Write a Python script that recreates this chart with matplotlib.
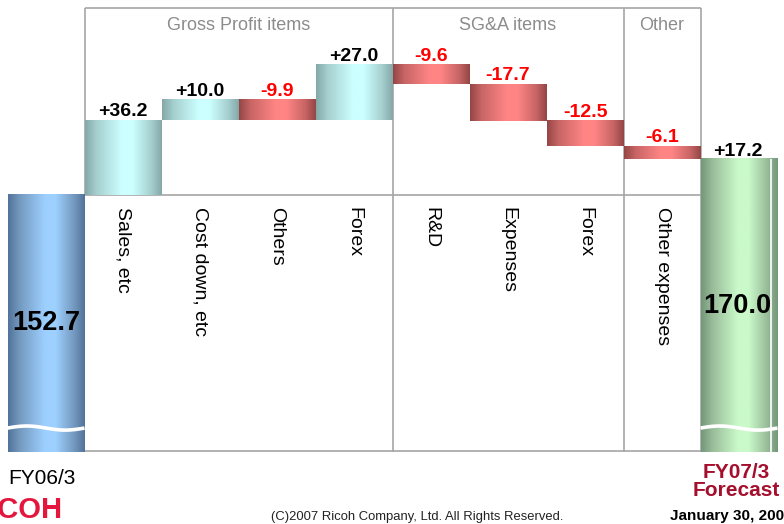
import numpy as np
import matplotlib.pyplot as plt
from matplotlib.colors import LinearSegmentedColormap

plt.rcParams['font.family'] = ['Liberation Sans', 'DejaVu Sans']

# data
start_label = "FY06/3"
end_label = ["FY07/3", "Forecast"]
start_value = 152.7
end_value = 170.0
end_change = 17.2
items = ["Sales, etc", "Cost down, etc", "Others", "Forex",
         "R&D", "Expenses", "Forex", "Other expenses"]
changes = [36.2, 10.0, -9.9, 27.0, -9.6, -17.7, -12.5, -6.1]
groups = ["Gross Profit items", "SG&A items", "Other"]
group_sizes = [4, 3, 1]

axis_floor = 27.0     # broken axis: bars are cut here
break_level = 38.8    # where the white wave is drawn
top_level = 243.7     # top frame line

fig = plt.figure(figsize=(7.84, 5.24), dpi=100)
ax = fig.add_axes([0, 0, 1, 1])

n = len(items)
x_items = np.arange(1, n + 1)
levels = start_value + np.concatenate([[0], np.cumsum(changes)])
bottoms = levels[:-1]


def cylinder(patch, dark, mid, light):
    """Fills a bar with a left-right shaded gradient (cylinder look)."""
    cmap = LinearSegmentedColormap.from_list(
        '', [(0, dark), (0.15, mid), (0.48, light), (0.62, light), (0.86, mid), (1, dark)])
    bb = patch.get_bbox()
    grad = np.linspace(0, 1, 256)[None, :]
    ax.imshow(grad, cmap=cmap, aspect='auto', interpolation='bilinear', zorder=2,
              extent=(bb.x0, bb.x1, min(bb.y0, bb.y1), max(bb.y0, bb.y1)))
    patch.set_visible(False)


# frame lines
line_kw = dict(color='#a6a6a6', lw=1.2, zorder=1)
ax.hlines([top_level, start_value], 0.5, n + 0.5, **line_kw)
ax.hlines(axis_floor + 0.7, 0.5, n + 0.5, **line_kw)
bounds = 0.5 + np.concatenate([[0], np.cumsum(group_sizes)])
ax.vlines(bounds[0], start_value, top_level, **line_kw)
ax.vlines(bounds[1:], axis_floor, top_level, **line_kw)

# start / end bars
start_bar = ax.bar(0, start_value - axis_floor, bottom=axis_floor, width=1.0)[0]
end_bar = ax.bar(n + 1, end_value - axis_floor, bottom=axis_floor, width=1.0)[0]
cylinder(start_bar, '#52729a', '#7499bf', '#9dd0ff')
cylinder(end_bar, '#74967a', '#99bd99', '#caf9ca')
ax.vlines(n + 1.41, axis_floor, end_value, color='white', lw=1.2, zorder=3)

# step bars
bars = ax.bar(x_items, changes, bottom=bottoms, width=1.0)
for b, c in zip(bars, changes):
    if c > 0:
        cylinder(b, '#84a8a8', '#a6cfcf', '#ccffff')
    else:
        cylinder(b, '#944646', '#c86565', '#ff8585')

# wave marks on the broken bars
for xc in [0, n + 1]:
    xs = np.linspace(xc - 0.5, xc + 0.5, 60)
    ax.plot(xs, break_level + 1.0 * np.sin(2 * np.pi * (xs - xc + 0.5)),
            color='white', lw=2.6, zorder=4, solid_capstyle='butt')

# value labels
for xi, b, c in zip(x_items, bottoms, changes):
    ax.annotate(f"{c:+.1f}", (xi, max(b, b + c)), xytext=(0, 3), textcoords='offset points',
                ha='center', va='baseline', fontsize=14, fontweight='bold',
                color='black' if c > 0 else '#ff0000')
ax.annotate(f"{end_change:+.1f}", (n + 1, end_value), xytext=(-1, 2), textcoords='offset points',
            ha='center', va='baseline', fontsize=14, fontweight='bold')
ax.text(0, (start_value + axis_floor) / 2, f"{start_value:.1f}", ha='center', va='center',
        fontsize=19.5, fontweight='bold', zorder=5)
ax.text(n + 1 - 0.02, (end_value + axis_floor) / 2, f"{end_value:.1f}", ha='center', va='center',
        fontsize=19.5, fontweight='bold', zorder=5)

# category labels
for xi, name in zip(x_items, items):
    ax.text(xi, start_value - 6, name, rotation=-90, ha='center', va='top', fontsize=14)

# group titles
for g, lo, hi in zip(groups, bounds[:-1], bounds[1:]):
    ax.text((lo + hi) / 2, 235.4, g, ha='center', va='center', fontsize=13, color='#8c8c8c')

ax.set_xlim(-46 / 77, 738 / 77)
ax.set_ylim(-8.0, 247.6)
ax.axis('off')

# slide texts
fig.text(8 / 784, 1 - 478 / 524, start_label, ha='left', va='center', fontsize=15)
fig.text(736 / 784, 1 - 472 / 524, end_label[0], ha='center', va='center', fontsize=15,
         fontweight='bold', color='#a50f2d')
fig.text(736 / 784, 1 - 491 / 524, end_label[1], ha='center', va='center', fontsize=15,
         fontweight='bold', color='#a50f2d')
fig.text(417 / 784, 1 - 517 / 524, "(C)2007 Ricoh Company, Ltd. All Rights Reserved.",
         ha='center', va='center', fontsize=9.4, color='#222222')
fig.text(670 / 784, 1 - 516 / 524, "January 30, 2007", ha='left', va='center',
         fontsize=11, fontweight='bold')
fig.text(62 / 784, 1 - 510 / 524, "RICOH", ha='right', va='center', fontsize=21,
         fontweight='bold', color='#e3173e')

plt.savefig('out.png', dpi=100)
